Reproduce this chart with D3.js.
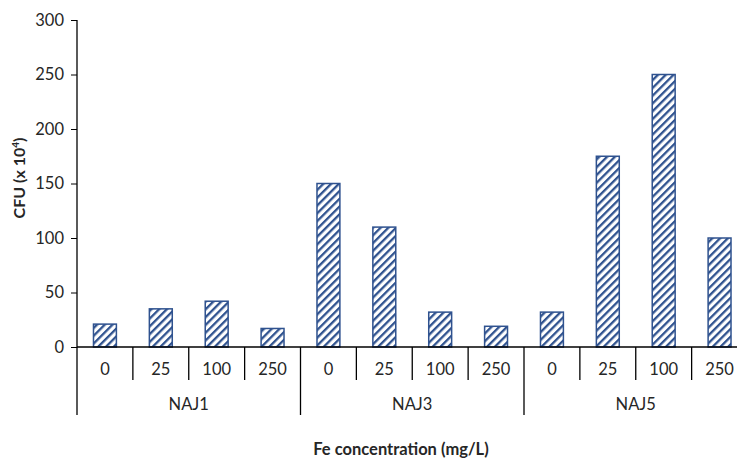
<!DOCTYPE html>
<html><head><meta charset="utf-8">
<script src="https://cdn.jsdelivr.net/npm/d3@7"></script>
<style>body{margin:0;background:#fff}svg{display:block}text{font-family:Lato,"Open Sans",sans-serif}</style>
</head><body>
<svg id="c" width="737" height="459"></svg>
<script>
const groups = ["NAJ1","NAJ3","NAJ5"];
const concentrations = ["0","25","100","250"];
const values = [21,35,42,17, 150,110,32,19, 32,175,250,100];
const yTicks = [0,50,100,150,200,250,300];

(function(){
const svg = d3.select("#c");
const mLeft = 77, mRight = 747.5, mTop = 20, mBottom = 347;
const color = "#2F528F";
const txt = "#262626";
const fs = 16.5;

const cats = [];
groups.forEach(g => concentrations.forEach(c => cats.push(g + "|" + c)));
const x = d3.scaleBand().domain(cats).range([mLeft, mRight]).paddingInner(0).paddingOuter(0);
const y = d3.scaleLinear().domain([0,300]).range([mBottom, mTop]);

const defs = svg.append("defs");
const pat = defs.append("pattern").attr("id","hatch").attr("patternUnits","userSpaceOnUse")
  .attr("width",5.5).attr("height",5.5).attr("patternTransform","rotate(45)");
pat.append("rect").attr("width",5.5).attr("height",5.5).attr("fill","#fff");
pat.append("rect").attr("x",0).attr("y",0).attr("width",2.3).attr("height",5.5).attr("fill",color);

// Y axis
const yAxis = d3.axisLeft(y).tickValues(yTicks).tickSize(6).tickPadding(7);
const ga = svg.append("g").attr("transform",`translate(${mLeft},0)`).call(yAxis);
ga.select(".domain").remove();
ga.selectAll(".tick line").attr("stroke","#000");
ga.selectAll(".tick text").attr("font-size",fs).attr("fill",txt).attr("font-family","Lato, 'Open Sans', sans-serif");
svg.append("line").attr("x1",mLeft).attr("x2",mLeft).attr("y1",mTop).attr("y2",415).attr("stroke","#000").attr("stroke-width",1.3);

// bars
const bw = x.bandwidth() * 0.41;
svg.append("g").selectAll("rect").data(values).join("rect")
  .attr("x",(d,i)=>x(cats[i]) + (x.bandwidth()-bw)/2)
  .attr("y",d=>y(d))
  .attr("width",bw)
  .attr("height",d=>y(0)-y(d))
  .attr("fill","url(#hatch)")
  .attr("stroke",color).attr("stroke-width",1.5);

// x axis baseline
svg.append("line").attr("x1",mLeft).attr("x2",mRight).attr("y1",mBottom).attr("y2",mBottom).attr("stroke","#000").attr("stroke-width",1.3);

// category separators and labels
cats.forEach((c,i)=>{
  const x0 = x(c);
  const isGroupStart = i % concentrations.length === 0;
  if (i>0) svg.append("line").attr("x1",x0).attr("x2",x0).attr("y1",mBottom).attr("y2",isGroupStart?415:380).attr("stroke","#000").attr("stroke-width",1.3);
  svg.append("text").attr("x",x0+x.bandwidth()/2).attr("y",375).attr("text-anchor","middle")
    .attr("font-size",fs).attr("fill",txt).text(c.split("|")[1]);
});
groups.forEach((g,gi)=>{
  const x0 = x(g+"|"+concentrations[0]);
  const x1 = x(g+"|"+concentrations[concentrations.length-1]) + x.bandwidth();
  svg.append("text").attr("x",(x0+x1)/2).attr("y",410).attr("text-anchor","middle")
    .attr("font-size",fs).attr("fill",txt).text(g);
});

// axis titles
svg.append("text").attr("x",401).attr("y",455).attr("text-anchor","middle")
  .attr("font-size",16.5).attr("font-weight","bold").attr("fill",txt).text("Fe concentration  (mg/L)");
const yt = svg.append("text").attr("transform",`translate(25,178) rotate(-90)`).attr("text-anchor","middle")
  .attr("font-size",16).attr("font-weight","bold").attr("fill",txt);
yt.append("tspan").text("CFU (x 10");
yt.append("tspan").attr("dy",-6).attr("font-size",10).text("4");
yt.append("tspan").attr("dy",6).text(")");
})();
</script>
</body></html>
